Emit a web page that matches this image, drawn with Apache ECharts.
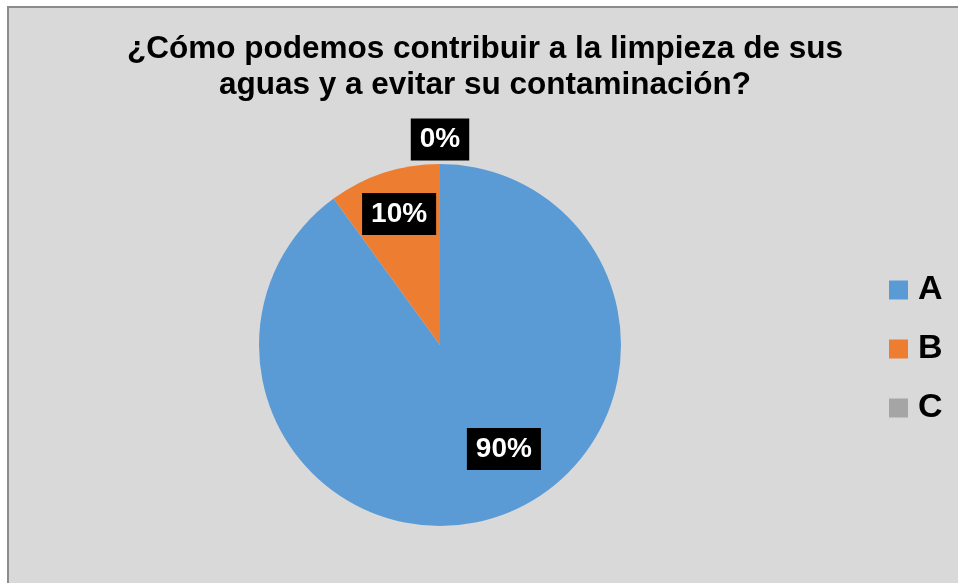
<!DOCTYPE html>
<html><head><meta charset="utf-8">
<script src="https://cdn.jsdelivr.net/npm/echarts@6/dist/echarts.min.js"></script>
<style>
html,body{margin:0;padding:0;background:#fff;width:958px;height:583px;overflow:hidden;}
#bg{position:absolute;left:7px;top:6px;width:951px;height:577px;background:#d9d9d9;border-left:2px solid #8c8c8c;border-top:2px solid #8c8c8c;box-sizing:border-box;}
#chart{position:absolute;left:0;top:0;width:958px;height:583px;}
</style></head>
<body><div id="bg"></div><div id="chart"></div>
<script>
const titleText = '¿Cómo podemos contribuir a la limpieza de sus\naguas y a evitar su contaminación?';
const categories = ['A', 'B', 'C'];
const values = [90, 10, 0];
const colors = ['#5b9bd5', '#ed7d31', '#a5a5a5'];
const labelOffsets = [[35, 15], [-12, -42], [0, -112]];

const chart = echarts.init(document.getElementById('chart'), null, {renderer: 'canvas'});
const font = 'Liberation Sans, Arial, sans-serif';
chart.setOption({
  backgroundColor: 'transparent',
  animation: false,
  title: {
    text: titleText,
    left: 485, top: 31, textAlign: 'center', padding: 0,
    textStyle: {fontFamily: font, fontSize: 31.5, fontWeight: 'bold', color: '#000', lineHeight: 36}
  },
  legend: {
    orient: 'vertical', left: 889, top: 273, padding: 0,
    itemWidth: 19, itemHeight: 19, itemGap: 25,
    icon: 'rect',
    textStyle: {fontFamily: font, fontSize: 34, fontWeight: 'bold', color: '#000', lineHeight: 34, padding: [0,0,0,5]},
    data: categories
  },
  series: [{
    type: 'pie',
    center: [440, 345],
    radius: [0, 181],
    startAngle: 90,
    clockwise: true,
    avoidLabelOverlap: false,
    minShowLabelAngle: -1,
    label: {
      show: true, position: 'inside',
      formatter: '{d}%',
      fontFamily: font, fontSize: 28, fontWeight: 'bold', color: '#fff',
      backgroundColor: '#000', padding: [7, 9, 7, 9], lineHeight: 28
    },
    labelLine: {show: false},
    emphasis: {disabled: true},
    data: categories.map((c, i) => ({
      name: c, value: values[i],
      itemStyle: {color: colors[i], borderWidth: 0},
      label: {offset: labelOffsets[i]}
    }))
  }]
});
</script></body></html>
